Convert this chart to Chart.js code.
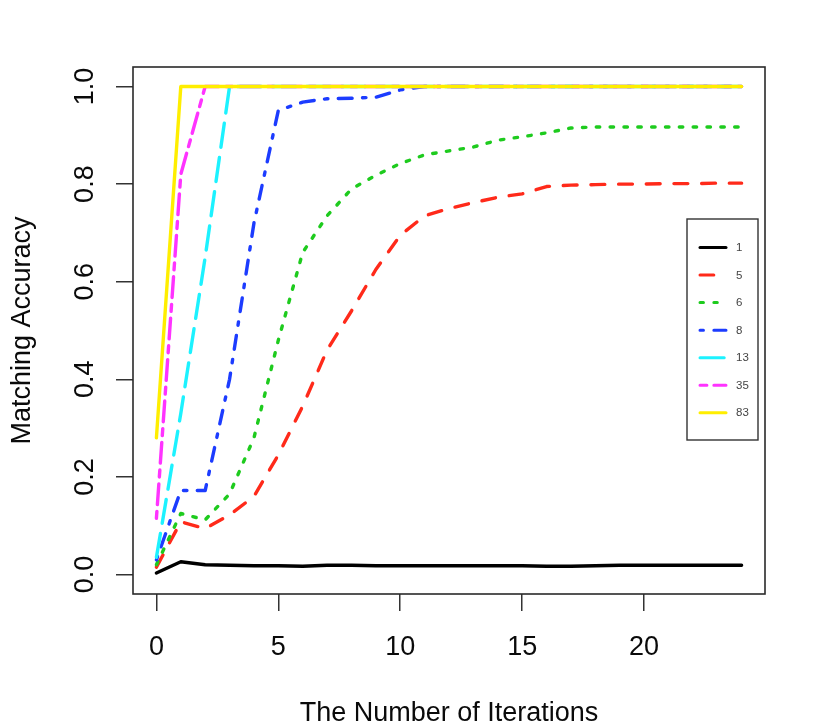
<!DOCTYPE html>
<html>
<head>
<meta charset="utf-8">
<script src="https://cdn.jsdelivr.net/npm/chart.js@4.4.1/dist/chart.umd.min.js"></script>
<style>
  html, body { margin: 0; padding: 0; background: #ffffff; }
  #wrap { width: 830px; height: 727px; }
</style>
</head>
<body>
<div id="wrap"><canvas id="c" width="830" height="727"></canvas></div>
<script>
// ---- data ----
const iterations = [0,1,2,3,4,5,6,7,8,9,10,11,12,13,14,15,16,17,18,19,20,21,22,23,24];
const seriesLabels = ["1", "5", "6", "8", "13", "35", "83"];
const s1  = [0.003,0.026,0.020,0.019,0.018,0.018,0.017,0.019,0.019,0.018,0.018,0.018,0.018,0.018,0.018,0.018,0.017,0.017,0.018,0.019,0.019,0.019,0.019,0.019,0.019];
const s5  = [0.015,0.108,0.094,0.122,0.160,0.245,0.345,0.460,0.540,0.625,0.695,0.735,0.750,0.762,0.773,0.780,0.795,0.798,0.799,0.800,0.800,0.801,0.801,0.802,0.802];
const s6  = [0.020,0.125,0.112,0.165,0.280,0.480,0.660,0.735,0.790,0.818,0.842,0.860,0.868,0.876,0.890,0.897,0.905,0.915,0.917,0.917,0.917,0.917,0.917,0.917,0.917];
const s8  = [0.030,0.172,0.172,0.400,0.720,0.951,0.968,0.975,0.976,0.978,0.993,1.000,1.000,1.000,1.000,1.000,1.000,1.000,1.000,1.000,1.000,1.000,1.000,1.000,1.000];
const s13 = [0.035,0.330,0.650,1.000,1.000,1.000,1.000,1.000,1.000,1.000,1.000,1.000,1.000,1.000,1.000,1.000,1.000,1.000,1.000,1.000,1.000,1.000,1.000,1.000,1.000];
const s35 = [0.115,0.820,1.000,1.000,1.000,1.000,1.000,1.000,1.000,1.000,1.000,1.000,1.000,1.000,1.000,1.000,1.000,1.000,1.000,1.000,1.000,1.000,1.000,1.000,1.000];
const s83 = [0.280,1.000,1.000,1.000,1.000,1.000,1.000,1.000,1.000,1.000,1.000,1.000,1.000,1.000,1.000,1.000,1.000,1.000,1.000,1.000,1.000,1.000,1.000,1.000,1.000];
const xTickValues = [0, 5, 10, 15, 20];
const yTickValues = [0.0, 0.2, 0.4, 0.6, 0.8, 1.0];
const xTitle = "The Number of Iterations";
const yTitle = "Matching Accuracy";

// ---- styles ----
const colors = ["#000000", "#ff2a1a", "#1ecb1e", "#1c3cff", "#1cf2ff", "#ff33ff", "#ffee00"];
const U = 3.46; // R dash unit
const dashes = [[], [4*U, 4*U], [1*U, 3*U], [1*U, 3*U, 4*U, 3*U], [7*U, 3*U], [2*U, 2*U, 6*U, 2*U], []];
const allSeries = [s1, s5, s6, s8, s13, s35, s83];

const datasets = allSeries.map((s, i) => ({
  label: seriesLabels[i],
  data: iterations.map((x, j) => ({ x: x, y: s[j] })),
  borderColor: colors[i],
  backgroundColor: colors[i],
  borderWidth: 3.4,
  borderDash: dashes[i],
  borderCapStyle: 'round',
  borderJoinStyle: 'round',
  pointRadius: 0,
  tension: 0,
  fill: false,
  order: allSeries.length - 1 - i
}));

const FONT = "'Liberation Sans', Arial, Helvetica, sans-serif";

const rStyle = {
  id: 'rStyle',
  afterDatasetsDraw(chart) {
    const { ctx, chartArea: a } = chart;
    ctx.save();
    // plot box
    ctx.strokeStyle = '#2a2a2a';
    ctx.lineWidth = 1.6;
    ctx.setLineDash([]);
    ctx.strokeRect(a.left, a.top, a.right - a.left, a.bottom - a.top);
    // legend
    const lx = 687, ly = 219, lw = 71, lh = 221;
    ctx.fillStyle = '#ffffff';
    ctx.fillRect(lx, ly, lw, lh);
    ctx.strokeStyle = '#333333';
    ctx.lineWidth = 1.4;
    ctx.strokeRect(lx, ly, lw, lh);
    chart.data.datasets.forEach((ds, i) => {
      const y = 247.5 + i * 27.55;
      ctx.beginPath();
      ctx.strokeStyle = ds.borderColor;
      ctx.lineWidth = 3;
      ctx.lineCap = 'round';
      ctx.setLineDash(ds.borderDash);
      ctx.moveTo(700, y);
      ctx.lineTo(726, y);
      ctx.stroke();
      ctx.setLineDash([]);
      ctx.fillStyle = '#444444';
      ctx.font = "11.5px " + FONT;
      ctx.textAlign = 'left';
      ctx.textBaseline = 'middle';
      ctx.fillText(ds.label, 736, y + 0.5);
    });
    ctx.restore();
  }
};

new Chart(document.getElementById('c'), {
  type: 'line',
  data: { datasets: datasets },
  plugins: [rStyle],
  options: {
    responsive: false,
    animation: false,
    devicePixelRatio: 1,
    layout: { padding: { left: 0, right: 65, top: 67, bottom: 0 } },
    plugins: { legend: { display: false }, tooltip: { enabled: false } },
    scales: {
      x: {
        type: 'linear',
        min: -0.96,
        max: 24.96,
        afterBuildTicks(scale) { scale.ticks = xTickValues.map(v => ({ value: v })); },
        afterFit(scale) { scale.height = 133; },
        border: { display: false },
        grid: { drawOnChartArea: false, drawTicks: true, tickLength: 17, color: '#333333', lineWidth: 1.5 },
        ticks: {
          color: '#0a0a0a',
          font: { family: FONT, size: 27 },
          padding: 20,
          maxRotation: 0,
          minRotation: 0,
          autoSkip: false,
          callback: v => String(v)
        },
        title: {
          display: true,
          text: xTitle,
          color: '#0a0a0a',
          font: { family: FONT, size: 27 },
          padding: { top: 0, bottom: -3 }
        }
      },
      y: {
        type: 'linear',
        min: -0.04,
        max: 1.04,
        afterBuildTicks(scale) { scale.ticks = yTickValues.map(v => ({ value: v })); },
        afterFit(scale) { scale.width = 133; },
        border: { display: false },
        grid: { drawOnChartArea: false, drawTicks: true, tickLength: 17, color: '#333333', lineWidth: 1.5 },
        ticks: {
          color: '#0a0a0a',
          font: { family: FONT, size: 27 },
          padding: 12,
          minRotation: 90,
          maxRotation: 90,
          crossAlign: 'center',
          autoSkip: false,
          callback: v => Number(v).toFixed(1)
        },
        title: {
          display: true,
          text: yTitle,
          color: '#0a0a0a',
          font: { family: FONT, size: 27 },
          padding: { top: 6, bottom: 0 }
        }
      }
    }
  }
});
</script>
</body>
</html>
